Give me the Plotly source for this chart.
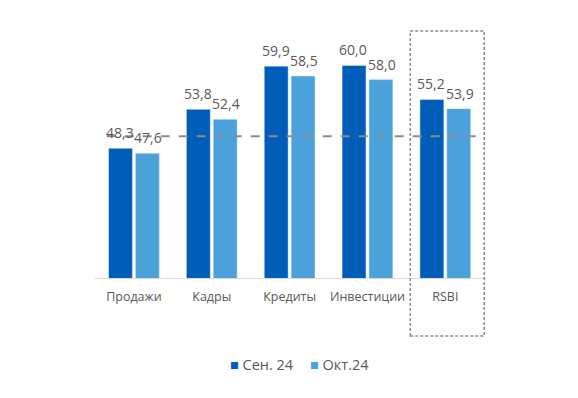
import plotly.graph_objects as go

categories = ["Продажи", "Кадры", "Кредиты", "Инвестиции", "RSBI"]
sep_values = [48.3, 53.8, 59.9, 60.0, 55.2]
oct_values = [47.6, 52.4, 58.5, 58.0, 53.9]
series_names = ["Сен. 24", "Окт.24"]
series_colors = ["#005EB8", "#4BA2DA"]
threshold = 50

fig = go.Figure()
for name, vals, col in zip(series_names, [sep_values, oct_values], series_colors):
    fig.add_trace(go.Bar(x=categories, y=vals, name=name, marker_color=col,
                         showlegend=False, cliponaxis=False))

# value labels above bars
for vals, shift in [(sep_values, -14), (oct_values, 14.5)]:
    for c, v in zip(categories, vals):
        fig.add_annotation(x=c, y=v, text=f"{v:.1f}".replace(".", ","), showarrow=False,
                           xshift=shift, yshift=4, yanchor="bottom",
                           font=dict(size=14, color="#595959"))

fig.add_shape(type="line", xref="x", yref="y", x0=-0.35, x1=4.49, y0=threshold, y1=threshold,
              line=dict(color="#8C8C8C", width=2, dash="dash"))
fig.add_shape(type="rect", xref="x", yref="paper", x0=3.55, x1=4.5, y0=-0.234, y1=0.996,
              line=dict(color="#8C8C8C", width=1.5, dash="3px,2px"))

# legend items
for (n, c), lx in zip(zip(series_names, series_colors), [0.342, 0.547]):
    fig.add_annotation(xref="paper", yref="paper", x=lx, y=-0.35,
                       text=f"<span style='color:{c}'>■</span> {n}",
                       showarrow=False, xanchor="left", yanchor="middle",
                       font=dict(size=14.5, color="#595959"))

fig.update_layout(
    width=578, height=398,
    margin=dict(l=87, r=101, t=22, b=128),
    paper_bgcolor="white", plot_bgcolor="white",
    barmode="group", bargap=0.31, bargroupgap=0.11,
    font=dict(family="Open Sans", color="#595959", size=12),
    xaxis=dict(showline=True, linecolor="#D9D9D9", linewidth=1, ticks="",
               ticklabelstandoff=7,
               tickfont=dict(size=12.5, color="#595959"), showgrid=False),
    yaxis=dict(range=[30, 65], visible=False, showgrid=False),
)

fig.write_html("out.html")
